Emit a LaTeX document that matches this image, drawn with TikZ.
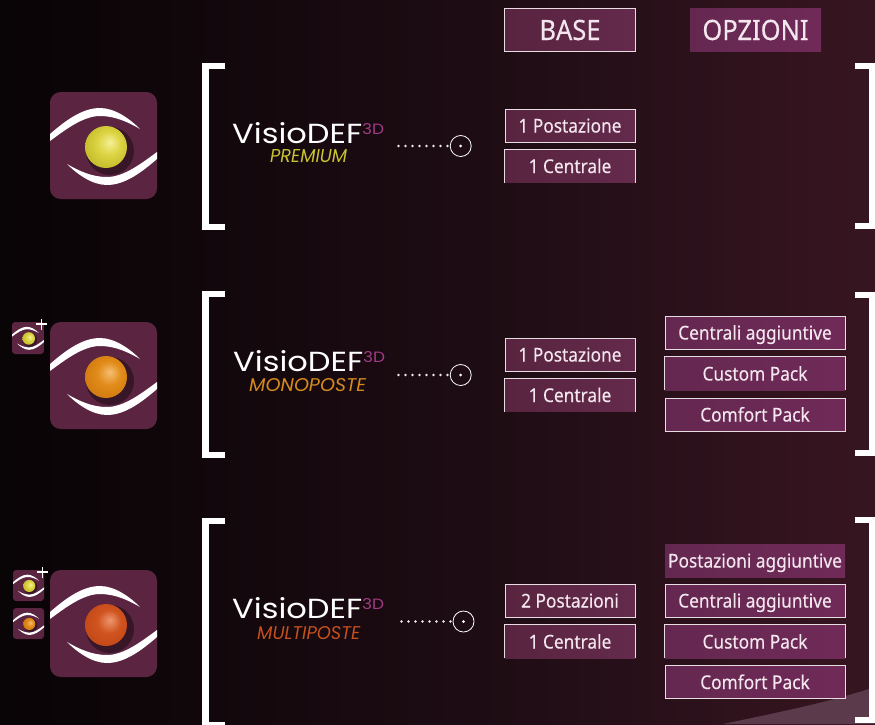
\documentclass[tikz,border=0pt]{standalone}
\usepackage{fontspec}
\usepackage{graphicx}
\setmainfont{Noto Sans}[FakeStretch=0.91,FakeBold=0.25]
\newfontfamily\logofont{Poppins}
\definecolor{plum}{HTML}{5B2542}
\definecolor{boxL}{HTML}{58243F}
\definecolor{boxR}{HTML}{642A4C}
\definecolor{optL}{HTML}{642850}
\definecolor{optR}{HTML}{702A58}
\definecolor{txt}{HTML}{F3E6EE}
\definecolor{mag}{HTML}{A23A86}
\definecolor{yel}{HTML}{C9C332}
\definecolor{ora}{HTML}{D48A1E}
\definecolor{red2}{HTML}{C4501E}
\definecolor{wedge}{HTML}{5A3A4B}
\definecolor{bgA}{HTML}{000000}
\definecolor{bgB}{HTML}{0C0508}
\definecolor{bgC}{HTML}{200D15}
\definecolor{bgD}{HTML}{34141F}
\definecolor{bgE}{HTML}{441E30}
\pgfdeclarehorizontalshading{bgshade}{100bp}{
 color(0bp)=(bgA);
 color(10bp)=(bgA);
 color(30bp)=(bgB);
 color(55bp)=(bgC);
 color(72bp)=(bgD);
 color(100bp)=(bgE)}
\definecolor{yA}{HTML}{F5F096}\definecolor{yB}{HTML}{DCD442}\definecolor{yC}{HTML}{BEB624}\definecolor{yD}{HTML}{968C18}
\definecolor{oA}{HTML}{F5BE73}\definecolor{oB}{HTML}{E28C1A}\definecolor{oC}{HTML}{CD760E}\definecolor{oD}{HTML}{A05808}
\definecolor{rA}{HTML}{EE966E}\definecolor{rB}{HTML}{D05420}\definecolor{rC}{HTML}{C04616}\definecolor{rD}{HTML}{96320E}
\pgfdeclareradialshading{ballY}{\pgfpoint{5bp}{6bp}}{
 color(0bp)=(yA);color(14bp)=(yB);color(32bp)=(yC);color(50bp)=(yD)}
\pgfdeclareradialshading{ballO}{\pgfpoint{5bp}{6bp}}{
 color(0bp)=(oA);color(14bp)=(oB);color(32bp)=(oC);color(50bp)=(oD)}
\pgfdeclareradialshading{ballR}{\pgfpoint{5bp}{6bp}}{
 color(0bp)=(rA);color(14bp)=(rB);color(32bp)=(rC);color(50bp)=(rD)}
\tikzset{
 basebox/.style={minimum width=130pt,minimum height=33pt,inner sep=0pt,text=txt,
   left color=boxL,right color=boxR,font=\fontsize{19}{19}\selectfont,
   text height=18pt,text depth=4pt},
 optbox/.style={minimum width=180pt,minimum height=33pt,inner sep=0pt,text=txt,
   left color=optL,right color=optR,font=\fontsize{19}{19}\selectfont,
   text height=18pt,text depth=4pt},
 ruled/.style={draw=white!85!plum,line width=.7pt},
 headbox/.style={minimum width=131pt,minimum height=43pt,inner sep=0pt,text=txt,
   left color=boxL,right color=boxR,font=\fontsize{28}{28}\selectfont},
 bracket/.style={draw=white,line width=6.5pt,line cap=butt,line join=miter},
 dotline/.style={draw=white!90!plum,line width=2.6pt,line cap=round,dash pattern=on 0pt off 7pt},
 target/.style={circle,draw=white,line width=.8pt,minimum size=21pt,inner sep=0pt},
 logo/.style={inner sep=0pt,anchor=west,text=white,font=\logofont},
 sub/.style={inner sep=0pt,anchor=west,font=\logofont\itshape},
 opensides/.style={draw=white!85!plum,line width=.7pt},
}
\newcommand\eyeicon[4]{%
 \begin{scope}[shift={(#1,#2)},scale=#3/107]
  \pgfmathsetlengthmacro\rr{#3*0.1}
  \fill[plum,rounded corners=\rr] (0,0) rectangle (107,107);
  \fill[black!70!plum,opacity=.55] (60,59) circle (24);
  \fill[white] (0,42) .. controls (15,29) and (32,16) .. (50,16)
     .. controls (65,16) and (80,27) .. (90,37)
     .. controls (78,30) and (65,24) .. (50,24)
     .. controls (33,24) and (15,38) .. (0,49) -- cycle;
  \fill[white] (107,67) .. controls (92,80) and (75,93) .. (57,93)
     .. controls (42,93) and (27,82) .. (17,72)
     .. controls (29,79) and (42,85) .. (57,85)
     .. controls (74,85) and (92,71) .. (107,60) -- cycle;
  \shade[shading=#4] (56,55) circle (21);
 \end{scope}}
\newcommand\lefttbr[2]{\draw[bracket] (224.5,#1+3.2) -- (205.5,#1+3.2) -- (205.5,#2-3.2) -- (224.5,#2-3.2);}
\newcommand\righttbr[2]{\draw[bracket] (855,#1+2.8) -- (872,#1+2.8) -- (872,#2-2.8) -- (855,#2-2.8);}
\begin{document}
\begin{tikzpicture}[x=1pt,y=-1pt]
\useasboundingbox (0,0) rectangle (875,724);
\shade[shading=bgshade] (0,0) rectangle (875,724);
\fill[wedge] (723,724) .. controls (780,712) and (830,702) .. (875,687) -- (875,724) -- cycle;

% header
\node[headbox,ruled] (hbase) at (570,30) {BASE};
\node[headbox,left color=optL,right color=optR] (hopt) at (755.5,30) {OPZIONI};

% icons
\eyeicon{50}{92}{107}{ballY}
\eyeicon{50}{322}{107}{ballO}
\eyeicon{50}{570}{107}{ballR}
\eyeicon{12}{322}{32}{ballY}
\eyeicon{13}{570}{31}{ballY}
\eyeicon{13}{608}{31}{ballO}
\draw[white,line width=1.4pt] (36,324) -- (47,324) (41.5,318.5) -- (41.5,329.5);
\draw[white,line width=1.4pt] (37,572) -- (48,572) (42.5,566.5) -- (42.5,577.5);

% brackets
\lefttbr{63}{230}
\lefttbr{291}{458}
\lefttbr{518}{728}
\righttbr{63}{229}
\righttbr{292}{456}
\righttbr{517}{723}

% logos
\node[logo] (l1) at (232,133.5) {\resizebox{130pt}{21pt}{VisioDEF}};
\node[logo,text=mag] (m1) at (362,129) {\resizebox{22pt}{11pt}{3D}};
\node[sub,text=yel] (s1) at (270,156.5) {\resizebox{77pt}{13pt}{PREMIUM}};
\node[logo] (l2) at (233,361.5) {\resizebox{130pt}{21pt}{VisioDEF}};
\node[logo,text=mag] (m2) at (363,357) {\resizebox{22pt}{11pt}{3D}};
\node[sub,text=ora] (s2) at (249,385) {\resizebox{117pt}{13pt}{MONOPOSTE}};
\node[logo] (l3) at (232,608.5) {\resizebox{130pt}{21pt}{VisioDEF}};
\node[logo,text=mag] (m3) at (362,604) {\resizebox{22pt}{11pt}{3D}};
\node[sub,text=red2] (s3) at (257,633) {\resizebox{103pt}{13pt}{MULTIPOSTE}};

% connectors
\node[target] (c1) at (460.7,146) {};
\node[target] (c2) at (460.7,375) {};
\node[target] (c3) at (463.5,621.5) {};
\coordinate (d1) at (398.5,146);
\coordinate (d2) at (398.5,375);
\coordinate (d3) at (401.5,621.5);
\draw[dotline] (d1) -- (c1.west);
\draw[dotline] (d2) -- (c2.west);
\draw[dotline] (d3) -- (c3.west);
\fill[white] (c1) circle (1.5) (c2) circle (1.5) (c3) circle (1.5);

% base boxes
\node[basebox,ruled] (b11) at (570,125.5) {1 Postazione};
\node[basebox] (b12) at (570,166) {1 Centrale};
\node[basebox,ruled] (b21) at (570,354.5) {1 Postazione};
\node[basebox] (b22) at (570,395) {1 Centrale};
\node[basebox,ruled] (b31) at (570,600.5) {2 Postazioni};
\node[basebox] (b32) at (570,641.5) {1 Centrale};
\foreach \n in {b12,b22,b32}
  \draw[opensides] (\n.south west) -- (\n.north west) -- (\n.north east) -- (\n.south east);

% option boxes
\node[optbox,ruled] (o21) at (755,332.5) {Centrali aggiuntive};
\node[optbox] (o22) at (755,373.5) {Custom Pack};
\node[optbox,ruled] (o23) at (755,414.5) {Comfort Pack};
\node[optbox] (o31) at (755,560.5) {Postazioni aggiuntive};
\node[optbox,ruled] (o32) at (755,600.5) {Centrali aggiuntive};
\node[optbox] (o33) at (755,641.5) {Custom Pack};
\node[optbox,ruled] (o34) at (755,682) {Comfort Pack};
\foreach \n in {o22,o33}
  \draw[opensides] (\n.south west) -- (\n.north west) -- (\n.north east) -- (\n.south east);
\end{tikzpicture}
\end{document}
